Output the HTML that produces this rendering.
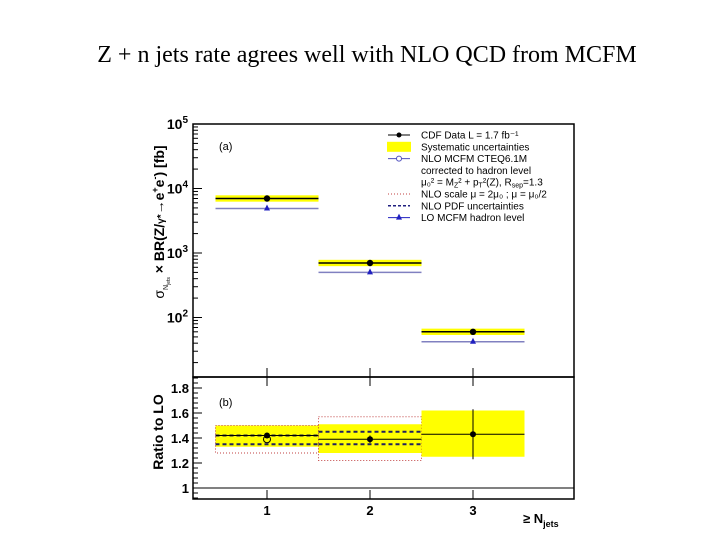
<!DOCTYPE html>
<html><head><meta charset="utf-8"><style>
body{margin:0;background:#fff;width:720px;height:540px;overflow:hidden}
svg{display:block;font-family:"Liberation Sans",sans-serif}
</style></head><body>
<svg id="c" width="720" height="540">
<text x="367" y="62" text-anchor="middle" font-family="Liberation Serif" font-size="24">Z + n jets rate agrees well with NLO QCD from MCFM</text>
</svg>
<script>
const categories=[1,2,3];
const cdfData=[7000,700,60];
const loMcfm=[4900,500,42];
const ratioData=[1.42,1.39,1.43];
const ratioErrLo=[1.40,1.36,1.23];
const ratioErrHi=[1.44,1.42,1.63];
const sysLo=[1.33,1.28,1.25];
const sysHi=[1.50,1.51,1.62];
const scaleLo=[1.28,1.22,null];
const scaleHi=[1.50,1.57,null];
const pdfLo=[1.35,1.35,null];
const pdfHi=[1.42,1.45,null];
const nloRatio=[1.39,null,null];
const logTicks=["10^2","10^3","10^4","10^5"];
const ratioTicks=[1,1.2,1.4,1.6,1.8];

const svg=document.getElementById('c');const NS='http://www.w3.org/2000/svg';
function mk(t,a,p){const e=document.createElementNS(NS,t);for(const k in a)e.setAttribute(k,a[k]);(p||svg).appendChild(e);return e;}
const L=193,R=574;
const x=v=>267+(v-1)*103;
const yT=v=>124+(5-Math.log10(v))*64.5;
const yB=v=>388+(1.8-v)*125;

let e=mk('rect',{x:L,y:124,width:R-L,height:253,fill:'none',stroke:'#000','stroke-width':1.5});

e=mk('rect',{x:L,y:377,width:R-L,height:122,fill:'none',stroke:'#000','stroke-width':1.5});

for(let d=1;d<5;d++)for(let m=1;m<10;m++){const v=Math.pow(10,d)*m;const yy=yT(v);if(yy<124||yy>377)continue;
 e=mk('line',{x1:L,x2:L+(m==1?9:5),y1:yy,y2:yy,stroke:'#000'});}
logTicks.forEach(s=>{const p=+s.split('^')[1];const t=mk('text',{x:L-5,y:yT(Math.pow(10,p))+5,'text-anchor':'end','font-size':14,'font-weight':'bold'});
 t.textContent='10';const ts=mk('tspan',{dy:-6,'font-size':10},t);ts.textContent=p;
 });
for(let v=0.92;v<=1.885;v+=0.04){const yy=yB(v);const maj=Math.abs(v*5-Math.round(v*5))<0.01;
 e=mk('line',{x1:L,x2:L+(maj?9:5),y1:yy,y2:yy,stroke:'#000'});}
ratioTicks.forEach(v=>{const t=mk('text',{x:L-4,y:yB(v)+5,'text-anchor':'end','font-size':13,'font-weight':'bold'});t.textContent=v==1?'1':v.toFixed(1);
 });
categories.forEach(c=>{[[377,368],[377,386],[499,490]].forEach(([a,b])=>{e=mk('line',{x1:x(c),x2:x(c),y1:a,y2:b,stroke:'#000'});});
 const t=mk('text',{x:x(c),y:515,'text-anchor':'middle','font-size':13,'font-weight':'bold'});t.textContent=c;});
categories.forEach((c,i)=>{
 const x0=x(c-0.5),x1=x(c+0.5);
 e=mk('rect',{x:x0,y:yT(cdfData[i]*1.12),width:x1-x0,height:yT(cdfData[i]/1.12)-yT(cdfData[i]*1.12),fill:'#ffff00'});
 e=mk('line',{x1:x0,x2:x1,y1:yT(loMcfm[i]),y2:yT(loMcfm[i]),stroke:'#8080c0','stroke-width':1.5});
 e=mk('path',{d:`M${x(c)-3},${yT(loMcfm[i])+2}l3,-6l3,6z`,fill:'#2020c0'});
 e=mk('line',{x1:x0,x2:x1,y1:yT(cdfData[i]),y2:yT(cdfData[i]),stroke:'#000','stroke-width':1.5});
 e=mk('circle',{cx:x(c),cy:yT(cdfData[i]),r:3.2,fill:'#000'});
});
categories.forEach((c,i)=>{
 const x0=x(c-0.5),x1=x(c+0.5);
 e=mk('rect',{x:x0,y:yB(sysHi[i]),width:x1-x0,height:yB(sysLo[i])-yB(sysHi[i]),fill:'#ffff00'});
 if(scaleLo[i]!=null){e=mk('rect',{x:x0,y:yB(scaleHi[i]),width:x1-x0,height:yB(scaleLo[i])-yB(scaleHi[i]),fill:'none',stroke:'#c04040','stroke-dasharray':'1,2'});}
 if(pdfLo[i]!=null){[pdfLo[i],pdfHi[i]].forEach(v=>{e=mk('line',{x1:x0,x2:x1,y1:yB(v),y2:yB(v),stroke:'#202060','stroke-width':2,'stroke-dasharray':'4,3'});});}
 e=mk('line',{x1:x0,x2:x1,y1:yB(ratioData[i]),y2:yB(ratioData[i]),stroke:'#000',"stroke-width":1});
 e=mk('line',{x1:x(c),x2:x(c),y1:yB(ratioErrHi[i]),y2:yB(ratioErrLo[i]),stroke:'#000'});
 if(nloRatio[i]!=null){e=mk('circle',{cx:x(c),cy:yB(nloRatio[i]),r:3.5,fill:'none',stroke:'#000'});}
 e=mk('circle',{cx:x(c),cy:yB(ratioData[i]),r:3,fill:'#000'});
});
e=mk('line',{x1:L,x2:R,y1:yB(1),y2:yB(1),stroke:'#000'});
function txt(s,a,n){const t=mk('text',a);t.textContent=s;return t;}
function sp(t,s,a){const ts=mk('tspan',a||{},t);ts.textContent=s;return ts;}
txt('(a)',{x:219,y:150,'font-size':11},'panel-a-label');
txt('(b)',{x:219,y:406,'font-size':11},'panel-b-label');
const yt=txt('',{x:0,y:0,'font-size':14,'font-weight':'bold','text-anchor':'middle',transform:'translate(164,222) rotate(-90)'},'y-axis-title');
sp(yt,'σ',{'font-weight':'normal'});sp(yt,'N',{'font-size':7,dy:4,'font-weight':'normal'});sp(yt,'jets',{'font-size':5,dy:2,'font-weight':'normal'});
sp(yt,' × BR(Z/',{dy:-6});sp(yt,'γ*',{'font-size':10});sp(yt,'→e');sp(yt,'+',{'font-size':9,dy:-6});sp(yt,'e',{dy:6});sp(yt,'-',{'font-size':9,dy:-6});sp(yt,') [fb]',{dy:6});
txt('Ratio to LO',{x:0,y:0,'font-size':14,'font-weight':'bold','text-anchor':'middle',transform:'translate(163,432) rotate(-90)'},'ratio-axis-title');
const xt=txt('≥ N',{x:523,y:523,'font-size':13,'font-weight':'bold'},'x-axis-title');sp(xt,'jets',{dy:4,'font-size':9});
const lg=['data','sys','nlo','','mu','scale','pdf','lo'];
const lgText=['CDF Data  L = 1.7 fb⁻¹','Systematic uncertainties','NLO MCFM CTEQ6.1M','corrected to hadron level','','NLO scale μ = 2μ₀ ; μ = μ₀/2','NLO PDF uncertainties','LO MCFM hadron level'];
lg.forEach((k,j)=>{const yy=135+j*11.8;
 if(k=='data'){mk('line',{x1:388,x2:410,y1:yy,y2:yy,stroke:'#000'});mk('circle',{cx:399,cy:yy,r:2.5});}
 if(k=='sys')mk('rect',{x:387,y:yy-5,width:24,height:10,fill:'#ffff00'});
 if(k=='nlo'){mk('line',{x1:388,x2:410,y1:yy,y2:yy,stroke:'#5050c0'});mk('circle',{cx:399,cy:yy,r:2.5,fill:'#fff',stroke:'#5050c0'});}
 if(k=='scale')mk('line',{x1:388,x2:410,y1:yy,y2:yy,stroke:'#c04040','stroke-dasharray':'1,2'});
 if(k=='pdf')mk('line',{x1:388,x2:410,y1:yy,y2:yy,stroke:'#202080','stroke-width':1.5,'stroke-dasharray':'3,2'});
 if(k=='lo'){mk('line',{x1:388,x2:410,y1:yy,y2:yy,stroke:'#2020c0'});mk('path',{d:`M396,${yy+2}l3,-6l3,6z`,fill:'#2020c0'});}
 const t=txt(lgText[j],{x:421,y:yy+3.5,'font-size':10},'legend-entry');
 if(k=='mu'){sp(t,'μ₀² = M');sp(t,'Z',{'font-size':7,dy:2});sp(t,'² + p',{dy:-2});sp(t,'T',{'font-size':7,dy:2});sp(t,'²(Z), R',{dy:-2});sp(t,'sep',{'font-size':7,dy:2});sp(t,'=1.3',{dy:-2});}
});
</script>
</body></html>
